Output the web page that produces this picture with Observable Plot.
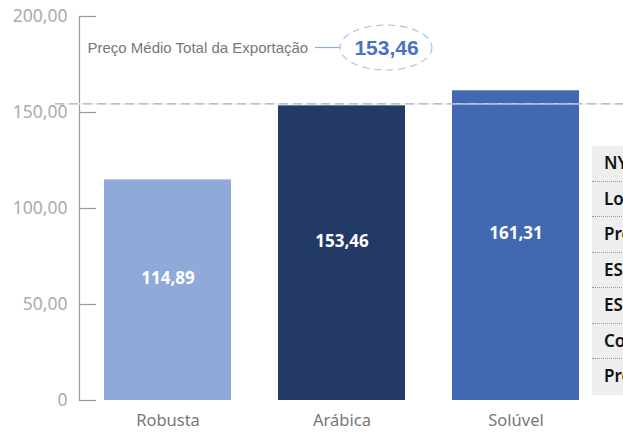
<!DOCTYPE html>
<html>
<head>
<meta charset="utf-8">
<script src="https://cdn.jsdelivr.net/npm/d3@7"></script>
<script src="https://cdn.jsdelivr.net/npm/@observablehq/plot@0.6"></script>
<style>
  html, body { margin: 0; padding: 0; background: #fff; }
  #wrap { position: relative; width: 623px; height: 432px; overflow: hidden; }
  #table { position: absolute; left: 592px; top: 146px; width: 220px; background: #eeeeee;
           font-family: "Noto Sans", sans-serif; font-weight: 600; font-size: 17px; color: #111; }
  #table div { height: 34.5px; line-height: 34.5px; padding-left: 12px; border-bottom: 1px dotted #999; white-space: nowrap; }
  #table div:last-child { border-bottom: none; height: 35.5px; }
</style>
</head>
<body>
<div id="wrap"><div id="chart"></div><div id="table"></div></div>
<script>
const categories = ["Robusta", "Arábica", "Solúvel"];
const values = [114.89, 153.46, 161.31];
const average = 153.46;
const averageLabel = "Preço Médio Total da Exportação";
const yTicks = [0, 50, 100, 150, 200];
const tableRows = ["NY (ICE)", "Londres", "Preço", "ES", "ES", "Conilon", "Preço"];

const locale = d3.formatLocale({decimal: ",", thousands: ".", grouping: [3], currency: ["R$ ", ""]});
const fmt = locale.format(".2f");
const data = categories.map((c, i) => ({category: c, value: values[i]}));

const W = 623, H = 432, ML = 79, MR = 20, MT = 16, MB = 32;

const annotation = (index, scales, vals, dims) => {
  const g = d3.create("svg:g");
  const cy = 47.5;
  g.append("line").attr("x1", 315).attr("x2", 340).attr("y1", cy).attr("y2", cy)
    .attr("stroke", "#8fa9d8").attr("stroke-width", 1.2);
  g.append("ellipse").attr("cx", 386).attr("cy", cy).attr("rx", 46).attr("ry", 22.5)
    .attr("fill", "none").attr("stroke", "#a9bbe2").attr("stroke-width", 1.1)
    .attr("stroke-dasharray", "7,5");
  return g.node();
};

const chart = Plot.plot({
  width: W, height: H,
  marginLeft: ML, marginRight: MR, marginTop: MT, marginBottom: MB,
  style: {fontFamily: "Noto Sans", background: "transparent", overflow: "visible"},
  x: {domain: categories, paddingInner: 0.272, paddingOuter: 0.1375, label: null},
  y: {domain: [0, 200], label: null},
  color: {domain: categories, range: ["#8FA9D8", "#243A66", "#4168B0"]},
  marks: [
    Plot.barY(data, {x: "category", y: "value", fill: "category"}),
    Plot.frame({anchor: "left", stroke: "#9a9a9a", strokeWidth: 1.2}),
    Plot.tickY(yTicks, {y: d => d, stroke: "#9a9a9a", strokeWidth: 1.2, insetRight: (W - ML - MR) - 17}),
    Plot.axisY({ticks: yTicks, tickSize: 0, tickPadding: 12, tickFormat: d => d === 0 ? "0" : fmt(d),
                fontSize: 17.5, fill: "#ababab"}),
    Plot.axisX({tickSize: 0, tickPadding: 14, fontSize: 16.5, fill: "#777"}),
    Plot.ruleY([average], {stroke: "#f5ecd3", strokeWidth: 1.4, insetLeft: -24, insetRight: -20, dy: -2}),
    Plot.ruleY([average], {stroke: "#9fb3e2", strokeWidth: 1.4, strokeDasharray: "9,5", insetLeft: -24, insetRight: -20, dy: -2}),
    Plot.text(data, {x: "category", y: d => d.value / 2, text: d => fmt(d.value), fill: "white",
                     fontWeight: "bold", fontSize: 17, dy: -12}),
    Plot.text([averageLabel], {frameAnchor: "top-left", dx: 8, dy: 31.5, textAnchor: "start", lineAnchor: "middle",
                               fontFamily: "Liberation Sans", fontSize: 15, fill: "#777"}),
    Plot.text([average], {frameAnchor: "top-left", dx: 307, dy: 31.5, text: d => fmt(d), textAnchor: "middle", lineAnchor: "middle",
                          fontFamily: "Liberation Sans", fontWeight: "bold", fontSize: 21, fill: "#4a72c4"}),
    annotation
  ]
});
document.getElementById("chart").append(chart);

const tbl = d3.select("#table");
tbl.selectAll("div").data(tableRows).join("div").text(d => d);
</script>
</body>
</html>
